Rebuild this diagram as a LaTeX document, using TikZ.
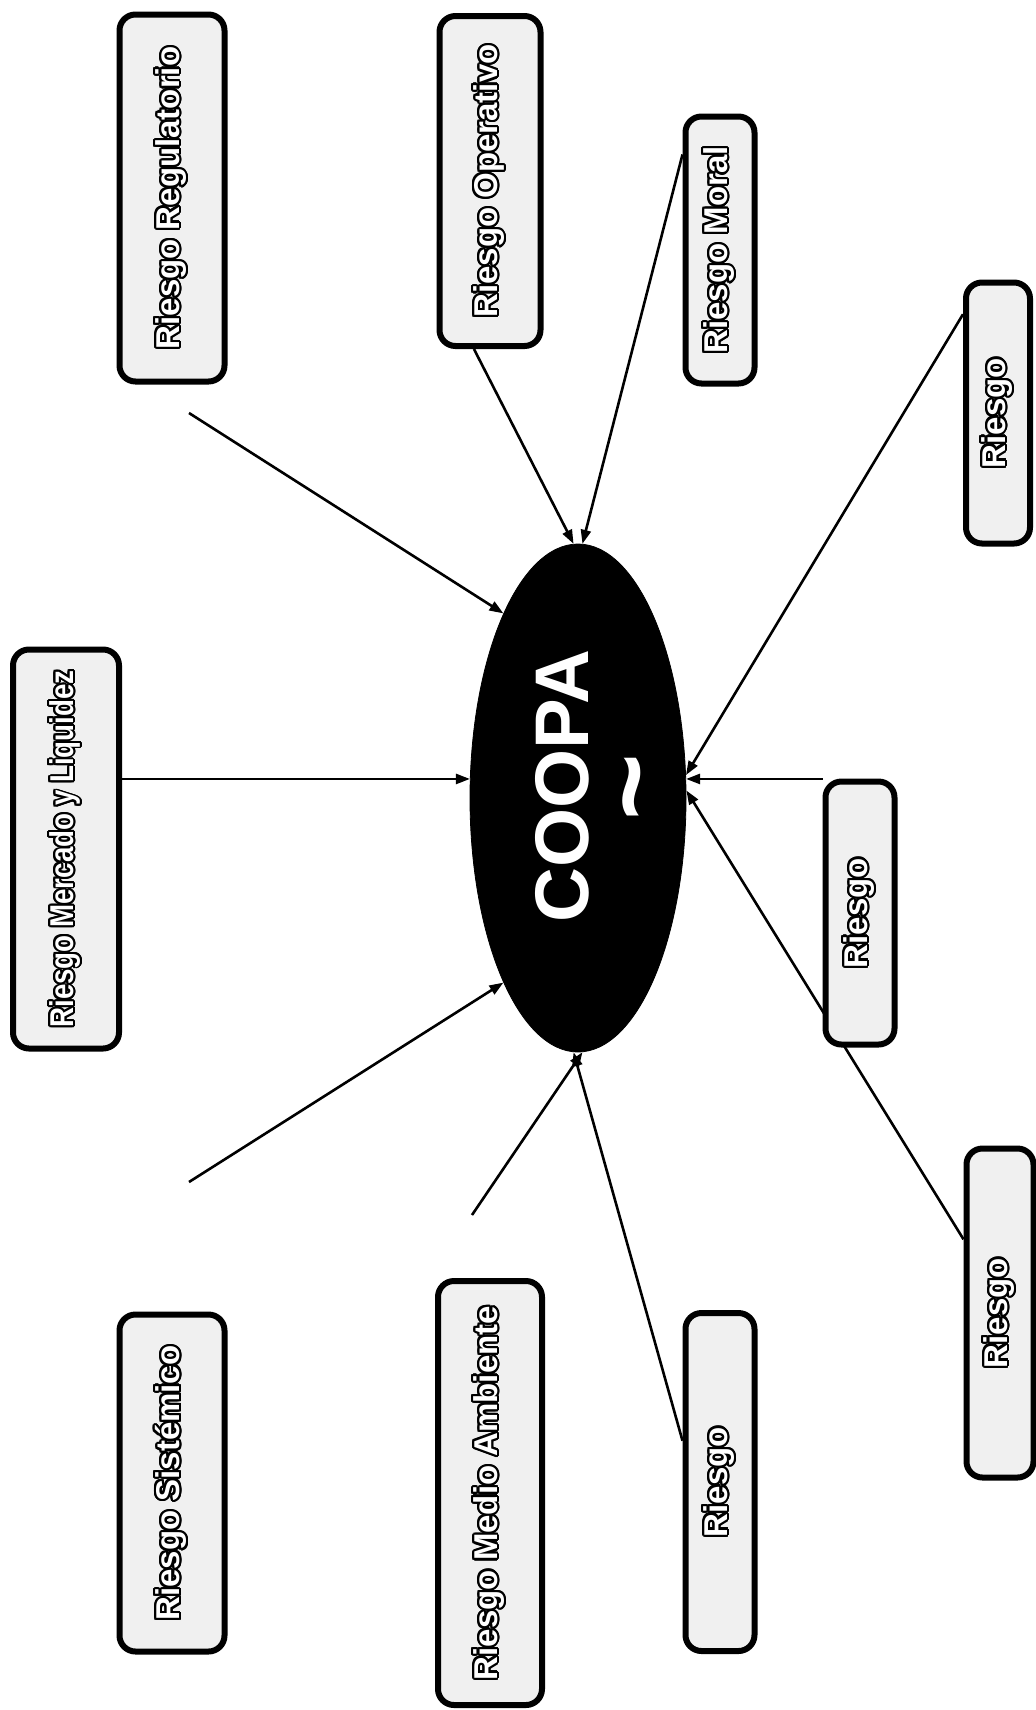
\documentclass[tikz,border=0pt]{standalone}
\usepackage{fontspec}
\setsansfont{Liberation Sans}
\newfontfamily\coopafont{Liberation Sans}
\usepackage{contour}
\contourlength{1.1pt}
\usetikzlibrary{shapes.geometric,arrows.meta,calc}
\pgfdeclarelayer{bg}
\pgfsetlayers{bg,main}

\newcommand{\vtext}[2][1]{\rotatebox{90}{\scalebox{#1}[1]{\color{white}\contour{black}{#2}}}}

\tikzset{
  riskbox/.style={draw, line width=3pt, rounded corners=8pt, fill=black!6, inner sep=0pt,
    font=\sffamily\bfseries\fontsize{16.5pt}{19pt}\selectfont},
  coopatext/.style={text=white, inner sep=0pt, font=\coopafont\bfseries\fontsize{38pt}{42pt}\selectfont},
  link/.style={line width=1.3pt, -{Triangle[length=7pt,width=5pt]}},
}

\begin{document}
\begin{tikzpicture}[x=0.5pt,y=-0.5pt]
    \useasboundingbox (0,0) rectangle (1036,1710);

    \node[ellipse, draw, fill=black, minimum width=108pt, minimum height=254pt, inner sep=0pt] (coopa) at (578,798) {};
    \node[coopatext] (coopaTxt) at (562,786) {\rotatebox{90}{COOPA}};
    \node[coopatext] (coopaTilde) at (646,787) {\rotatebox{90}{\scalebox{1.5}{\textasciitilde}}};

    \node[riskbox, minimum width=52.5pt, minimum height=183.5pt] (regul)   at (172,198)  {\vtext{Riesgo Regulatorio}};
    \node[riskbox, minimum width=50.5pt, minimum height=165pt]   (operat)  at (490,181)  {\vtext{Riesgo Operativo}};
    \node[riskbox, minimum width=34.5pt, minimum height=133.5pt] (moral)   at (720,250)  {\vtext{Riesgo Moral}};
    \node[riskbox, minimum width=32pt,   minimum height=130.5pt] (riesgoA) at (998,413)  {\vtext{Riesgo}};
    \node[riskbox, minimum width=53pt,   minimum height=199.5pt] (mercado) at (66,849)   {\vtext[0.84]{Riesgo Mercado y Liquidez}};
    \node[riskbox, minimum width=34.5pt, minimum height=131.5pt] (riesgoB) at (860,913)  {\vtext{Riesgo}};
    \node[riskbox, minimum width=33.5pt, minimum height=164.5pt] (riesgoC) at (1000,1313) {\vtext{Riesgo}};
    \node[riskbox, minimum width=52.5pt, minimum height=168.5pt] (sistem)  at (172,1483) {\vtext{Riesgo Sistémico}};
    \node[riskbox, minimum width=52pt,   minimum height=212pt]   (medio)   at (490,1493) {\vtext{Riesgo Medio Ambiente}};
    \node[riskbox, minimum width=34.5pt, minimum height=169pt]   (riesgoD) at (720,1482) {\vtext{Riesgo}};

    \coordinate (regulEnd) at (189,413);
    \coordinate (sistEnd)  at (189,1182);
    \coordinate (medioEnd) at (472,1215);

    \begin{pgfonlayer}{bg}
    \draw[link] (regulEnd) -- (coopa.112);
    \draw[link] ($(operat.south west)!0.35!(operat.south east)$) -- (coopa.91);
    \draw[link] ($(moral.north west)!0.15!(moral.south west)$) -- (coopa.89);
    \draw[link] ($(riesgoA.north west)!0.13!(riesgoA.south west)$) -- (coopa.12);
    \draw[link] (mercado.east |- coopa.170) -- (coopa.170);
    \draw[link] (riesgoB.west |- coopa.10) -- (coopa.10);
    \draw[link] ($(riesgoC.north west)!0.28!(riesgoC.south west)$) -- (coopa.4);
    \draw[link] (sistEnd) -- (coopa.248);
    \draw[link] (medioEnd) -- (coopa.271);
    \draw[link] ($(riesgoD.north west)!0.38!(riesgoD.south west)$) -- (coopa.269);
    \end{pgfonlayer}
\end{tikzpicture}
\end{document}
